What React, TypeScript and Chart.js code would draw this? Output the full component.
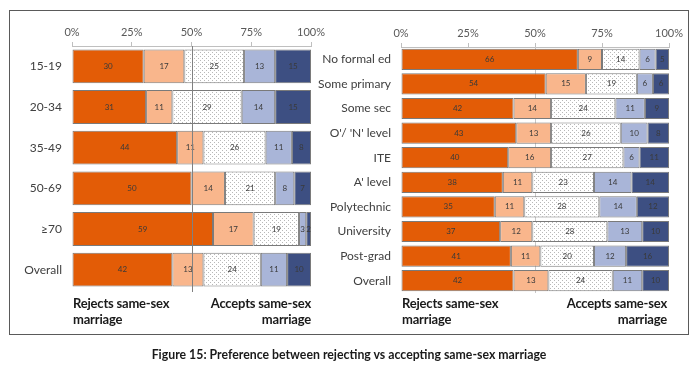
import React, { useEffect, useRef } from "react";
import { Chart, registerables } from "chart.js";

Chart.register(...registerables);

const ageCategories = ["15-19", "20-34", "35-49", "50-69", "≥70", "Overall"];
const ageStronglyReject = [30, 31, 44, 50, 59, 42];
const ageReject = [17, 11, 11, 14, 17, 13];
const ageNeutral = [25, 29, 26, 21, 19, 24];
const ageAccept = [13, 14, 11, 8, 3, 11];
const ageStronglyAccept = [15, 15, 8, 7, 2, 10];

const eduCategories = [
  "No formal ed",
  "Some primary",
  "Some sec",
  "O'/ 'N' level",
  "ITE",
  "A' level",
  "Polytechnic",
  "University",
  "Post-grad",
  "Overall",
];
const eduStronglyReject = [66, 54, 42, 43, 40, 38, 35, 37, 41, 42];
const eduReject = [9, 15, 14, 13, 16, 11, 11, 12, 11, 13];
const eduNeutral = [14, 19, 24, 26, 27, 23, 28, 28, 20, 24];
const eduAccept = [6, 6, 11, 10, 6, 14, 14, 13, 12, 11];
const eduStronglyAccept = [5, 6, 9, 8, 11, 14, 12, 10, 16, 10];

const xTickStep = 25;
const xMax = 100;

const FONT = "Lato, 'Open Sans', sans-serif";

function makeDotPattern(): CanvasPattern | string {
  const c = document.createElement("canvas");
  c.width = 4;
  c.height = 4;
  const g = c.getContext("2d");
  if (!g) return "#ffffff";
  g.fillStyle = "#ffffff";
  g.fillRect(0, 0, 4, 4);
  g.fillStyle = "#b8b8b8";
  g.fillRect(0, 0, 1, 1);
  g.fillRect(2, 2, 1, 1);
  const p = g.createPattern(c, "repeat");
  return p || "#ffffff";
}

const valueLabels = {
  id: "valueLabels",
  afterDatasetsDraw(chart: any) {
    const ctx = chart.ctx;
    ctx.save();
    ctx.font = `8px ${FONT}`;
    ctx.fillStyle = "#3a3a3a";
    ctx.textAlign = "center";
    ctx.textBaseline = "middle";
    chart.data.datasets.forEach((ds: any, di: number) => {
      const meta = chart.getDatasetMeta(di);
      meta.data.forEach((el: any, i: number) => {
        const v = ds.data[i];
        const x = (el.x + el.base) / 2;
        ctx.fillText(String(v), x, el.y);
      });
    });
    ctx.restore();
  },
};

function midLinePlugin(color: string, onTop: boolean, extra: number) {
  const draw = (chart: any) => {
    const ctx = chart.ctx;
    const xs = chart.scales.x;
    const x = Math.round(xs.getPixelForValue(50)) + 0.5;
    ctx.save();
    ctx.strokeStyle = color;
    ctx.lineWidth = 1;
    ctx.beginPath();
    ctx.moveTo(x, chart.chartArea.top);
    ctx.lineTo(x, chart.chartArea.bottom + extra);
    ctx.stroke();
    ctx.restore();
  };
  return onTop
    ? { id: "midLine", afterDatasetsDraw: draw }
    : { id: "midLine", beforeDatasetsDraw: draw };
}

function buildChart(
  canvas: HTMLCanvasElement,
  labels: string[],
  series: number[][],
  opts: {
    pad: { top: number; right: number; bottom: number; left: number };
    xHeight: number;
    yWidth: number;
    barPct: number;
    lineColor: string;
    lineOnTop: boolean;
    lineExtra: number;
  }
) {
  const pattern = makeDotPattern();
  const colors = ["#E35C06", "#F9B68C", pattern, "#A9B5D8", "#3D4F82"];
  const datasets = series.map((d, i) => ({
    label: "s" + i,
    data: d,
    backgroundColor: colors[i] as any,
    borderColor: "#7a7a7a",
    borderWidth: 1,
    borderSkipped: false,
    barPercentage: opts.barPct,
    categoryPercentage: 1,
  }));
  return new Chart(canvas, {
    type: "bar",
    data: { labels, datasets },
    options: {
      indexAxis: "y",
      animation: false,
      responsive: false,
      maintainAspectRatio: false,
      layout: { padding: opts.pad },
      plugins: { legend: { display: false }, tooltip: { enabled: false } },
      scales: {
        x: {
          position: "top",
          stacked: true,
          min: 0,
          max: xMax,
          ticks: {
            stepSize: xTickStep,
            callback: (v: any) => v + "%",
            color: "#595959",
            font: { size: 11, family: FONT },
            padding: 3,
          },
          grid: {
            drawOnChartArea: false,
            drawTicks: true,
            tickLength: 4,
            color: "#bfbfbf",
          },
          border: { color: "#bfbfbf" },
          afterFit: (s: any) => {
            s.height = opts.xHeight;
          },
        },
        y: {
          stacked: true,
          ticks: {
            color: "#404040",
            font: { size: 12, family: FONT },
            padding: 10,
          },
          grid: { display: false, drawTicks: false },
          border: { display: false },
          afterFit: (s: any) => {
            s.width = opts.yWidth;
          },
        },
      },
    } as any,
    plugins: [valueLabels, midLinePlugin(opts.lineColor, opts.lineOnTop, opts.lineExtra)],
  });
}

const bottomText: React.CSSProperties = {
  position: "absolute",
  fontFamily: FONT,
  fontWeight: 700,
  fontSize: 13,
  letterSpacing: "-0.2px",
  lineHeight: "16px",
  color: "#1a1a1a",
  whiteSpace: "nowrap",
};

export default function App() {
  const leftRef = useRef<HTMLCanvasElement>(null);
  const rightRef = useRef<HTMLCanvasElement>(null);

  useEffect(() => {
    const c1 = buildChart(
      leftRef.current!,
      ageCategories,
      [ageStronglyReject, ageReject, ageNeutral, ageAccept, ageStronglyAccept],
      {
        pad: { top: 10, right: 39, bottom: 76, left: 0 },
        xHeight: 36,
        yWidth: 72,
        barPct: 0.83,
        lineColor: "#808080",
        lineOnTop: true,
        lineExtra: 2,
      }
    );
    const c2 = buildChart(
      rightRef.current!,
      eduCategories,
      [eduStronglyReject, eduReject, eduNeutral, eduAccept, eduStronglyAccept],
      {
        pad: { top: 10, right: 31, bottom: 73, left: 0 },
        xHeight: 37,
        yWidth: 91,
        barPct: 0.86,
        lineColor: "#c8c8c8",
        lineOnTop: false,
        lineExtra: 0,
      }
    );
    return () => {
      c1.destroy();
      c2.destroy();
    };
  }, []);

  return (
    <div
      style={{
        position: "absolute",
        left: 0,
        top: 0,
        width: 700,
        height: 366,
        background: "#ffffff",
        overflow: "hidden",
      }}
    >
      <div
        style={{
          position: "absolute",
          left: 9,
          top: 10,
          width: 678,
          height: 323,
          border: "1px solid #5a5a5a",
        }}
      />
      <canvas
        ref={leftRef}
        width={350}
        height={366}
        style={{ position: "absolute", left: 0, top: 0, width: 350, height: 366 }}
      />
      <canvas
        ref={rightRef}
        width={390}
        height={366}
        style={{ position: "absolute", left: 310, top: 0, width: 390, height: 366 }}
      />
      <div style={{ ...bottomText, left: 73, top: 295 }}>
        Rejects same-sex
        <br />
        marriage
      </div>
      <div style={{ ...bottomText, left: 191, width: 120, top: 295, textAlign: "right" }}>
        Accepts same-sex
        <br />
        marriage
      </div>
      <div style={{ ...bottomText, left: 402, top: 295 }}>
        Rejects same-sex
        <br />
        marriage
      </div>
      <div style={{ ...bottomText, left: 547, width: 120, top: 295, textAlign: "right" }}>
        Accepts same-sex
        <br />
        marriage
      </div>
      <div
        style={{
          position: "absolute",
          left: 0,
          width: 698,
          top: 347,
          textAlign: "center",
          fontFamily: FONT,
          fontWeight: 700,
          fontSize: 12.3,
          color: "#1a1a1a",
        }}
      >
        Figure 15: Preference between rejecting vs accepting same-sex marriage
      </div>
    </div>
  );
}
